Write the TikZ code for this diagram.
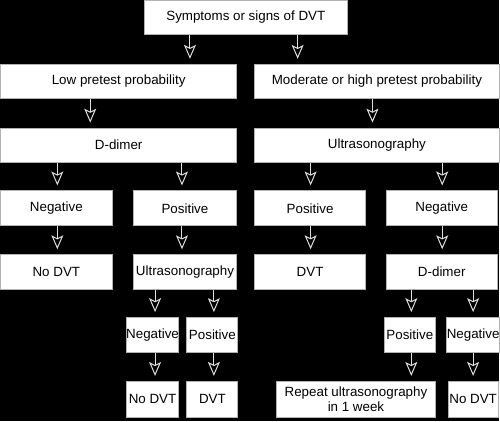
\documentclass[tikz,border=0pt]{standalone}
\usepackage{fontspec}
\setmainfont{Liberation Sans}
\usetikzlibrary{arrows.meta,calc}

\begin{document}
\begin{tikzpicture}[x=1pt,y=-1pt,
  box/.style={draw=gray!60,line width=1pt,fill=white,inner sep=0pt,
    minimum height=34pt,align=center,font=\fontsize{13.4}{15}\selectfont},
  arr/.style={draw=gray!25,line width=1pt,shorten >=5pt,
    -{Stealth[open,length=14pt,width=12pt,inset=3pt]}}]
\fill[black] (0,0) rectangle (500,422);
% level 1 and 2
\node[box,minimum width=204pt] (top) at (246,17) {Symptoms or signs of DVT};
\node[box,minimum width=237pt] (low) at (118.5,81) {Low pretest probability};
\node[box,minimum width=245pt] (mod) at (377.5,81) {Moderate or high pretest probability};
\node[box,minimum width=237pt] (dd1) at (118.5,145) {D-dimer};
\node[box,minimum width=245pt] (us1) at (377.5,145) {Ultrasonography};
% level 3 and 4
\node[box,minimum width=112pt,minimum height=35pt] (neg1) at (56,208.5) {Negative};
\node[box,minimum width=104pt,minimum height=35pt] (pos1) at (185,208.5) {Positive};
\node[box,minimum width=111pt,minimum height=35pt] (pos2) at (310.5,208.5) {Positive};
\node[box,minimum width=111pt,minimum height=35pt] (neg2) at (442.5,208.5) {Negative};
\node[box,minimum width=112pt,minimum height=35pt] (nodvt1) at (56,272.5) {No DVT};
\node[box,minimum width=104pt,minimum height=35pt] (us2) at (185,272.5) {Ultrasonography};
\node[box,minimum width=111pt,minimum height=35pt] (dvt1) at (310.5,272.5) {DVT};
\node[box,minimum width=111pt,minimum height=35pt] (dd2) at (442.5,272.5) {D-dimer};
% level 5 and 6
\node[box,minimum width=53pt,minimum height=35pt] (neg3) at (152.5,335.5) {Negative};
\node[box,minimum width=51pt,minimum height=35pt] (pos3) at (212.5,335.5) {Positive};
\node[box,minimum width=51pt,minimum height=35pt] (pos4) at (410.5,335.5) {Positive};
\node[box,minimum width=50pt,minimum height=35pt] (neg4) at (474,335.5) {Negative};
\node[box,minimum width=53pt,minimum height=36pt] (nodvt2) at (152.5,400) {No DVT};
\node[box,minimum width=51pt,minimum height=36pt] (dvt2) at (212.5,400) {DVT};
\node[box,minimum width=159pt,minimum height=36pt] (rep) at (356.5,400) {Repeat ultrasonography\\in 1 week};
\node[box,minimum width=50pt,minimum height=36pt] (nodvt3) at (474,400) {No DVT};
% arrows
\draw[arr] (top.south -| 190,0) -- (low.north -| 190,0);
\draw[arr] (top.south -| 298,0) -- (mod.north -| 298,0);
\draw[arr] (low.south -| 90,0) -- (dd1.north -| 90,0);
\draw[arr] (mod.south -| 373,0) -- (us1.north -| 373,0);
\draw[arr] (dd1.south -| 57,0) -- (neg1.north -| 57,0);
\draw[arr] (dd1.south -| 182,0) -- (pos1.north -| 182,0);
\draw[arr] (us1.south -| 311,0) -- (pos2.north -| 311,0);
\draw[arr] (us1.south -| 443,0) -- (neg2.north -| 443,0);
\draw[arr] (neg1.south -| 57,0) -- (nodvt1.north -| 57,0);
\draw[arr] (pos1.south -| 182,0) -- (us2.north -| 182,0);
\draw[arr] (pos2.south -| 311,0) -- (dvt1.north -| 311,0);
\draw[arr] (neg2.south -| 443,0) -- (dd2.north -| 443,0);
\draw[arr] (us2.south -| 155,0) -- (neg3.north -| 155,0);
\draw[arr] (us2.south -| 214,0) -- (pos3.north -| 214,0);
\draw[arr] (dd2.south -| 412,0) -- (pos4.north -| 412,0);
\draw[arr] (dd2.south -| 474,0) -- (neg4.north -| 474,0);
\draw[arr] (neg3.south -| 155,0) -- (nodvt2.north -| 155,0);
\draw[arr] (pos3.south -| 214,0) -- (dvt2.north -| 214,0);
\draw[arr] (pos4.south -| 412,0) -- (rep.north -| 412,0);
\draw[arr] (neg4.south -| 474,0) -- (nodvt3.north -| 474,0);
\end{tikzpicture}
\end{document}
